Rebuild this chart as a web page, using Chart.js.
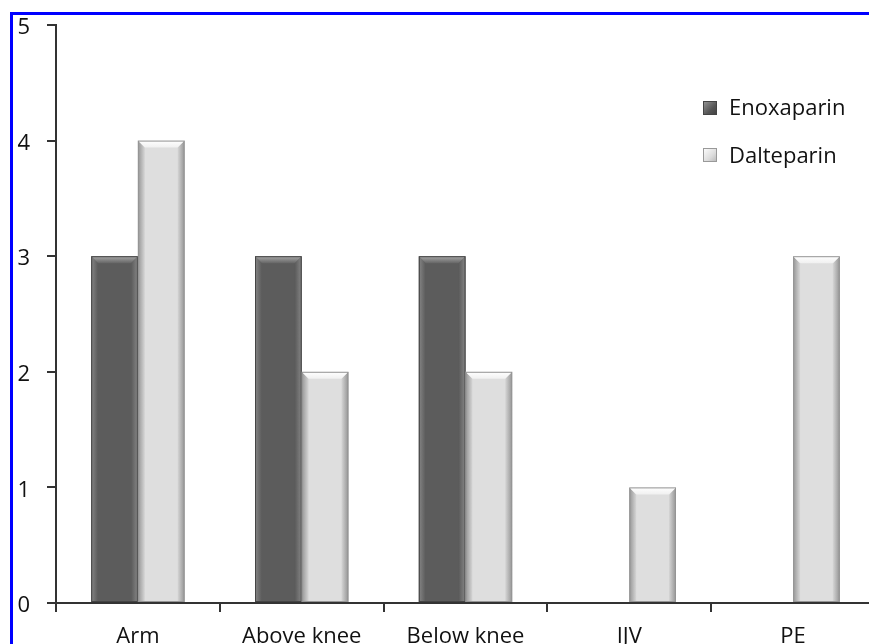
<!DOCTYPE html>
<html>
<head>
<meta charset="utf-8">
<script src="https://cdn.jsdelivr.net/npm/chart.js@4/dist/chart.umd.min.js"></script>
<style>
  html, body { margin: 0; padding: 0; background: #ffffff; overflow: hidden; width: 869px; height: 644px; }
  #wrap { position: absolute; left: 0; top: 0; width: 890px; height: 660px; }
  #frame { position: absolute; left: 10px; top: 12px; width: 900px; height: 700px; border: 3px solid #0000ff; pointer-events: none; }
  .leg { position: absolute; left: 703px; font-family: "Open Sans", sans-serif; font-size: 22px; line-height: 24px; color: #111; }
  .leg .sw { position: absolute; left: 0; width: 14px; height: 14px; }
  .leg .tx { position: absolute; left: 26px; white-space: nowrap; }
</style>
</head>
<body>
<div id="wrap"><canvas id="c"></canvas></div>
<div id="frame"></div>
<div class="leg" style="top:0">
  <div class="sw" style="top:101px;background:linear-gradient(135deg,#9a9a9a,#555 60%,#3f3f3f);box-shadow:inset 0 0 0 1px #444;"></div>
  <div class="tx" style="top:94px">Enoxaparin</div>
  <div class="sw" style="top:148px;background:linear-gradient(135deg,#ffffff,#dcdcdc 60%,#b5b5b5);box-shadow:inset 0 0 0 1px #999;"></div>
  <div class="tx" style="top:142px">Dalteparin</div>
</div>
<script>
const categories = ["Arm", "Above knee", "Below knee", "IJV", "PE"];
const enoxaparin = [3, 3, 3, 0, 0];
const dalteparin = [4, 2, 2, 1, 3];
const yTicks = [0, 1, 2, 3, 4, 5];

const styles = [
  { body: "#5c5c5c", sideA: "#868686", sideB: "#5a5a5a", topA: "#a8a8a8", topB: "#666666", line: "#444444" },
  { body: "#dedede", sideA: "#949494", sideB: "#d6d6d6", topA: "#ffffff", topB: "#f0f0f0", line: "#959595" }
];

const bevelPlugin = {
  id: "bevel",
  afterDatasetsDraw(chart) {
    const ctx = chart.ctx;
    chart.data.datasets.forEach((ds, di) => {
      const meta = chart.getDatasetMeta(di);
      const st = styles[di];
      meta.data.forEach(bar => {
        const p = bar.getProps(["x", "y", "base", "width"], true);
        const x0 = p.x - p.width / 2, x1 = p.x + p.width / 2;
        const top = Math.min(p.y, p.base), bot = Math.max(p.y, p.base);
        if (bot - top < 1) return;
        const b = 7;
        ctx.save();
        let g = ctx.createLinearGradient(x0, 0, x0 + b, 0);
        g.addColorStop(0, st.sideA); g.addColorStop(1, st.sideB);
        ctx.fillStyle = g;
        ctx.beginPath();
        ctx.moveTo(x0, top); ctx.lineTo(x0 + b, top + b); ctx.lineTo(x0 + b, bot); ctx.lineTo(x0, bot); ctx.closePath();
        ctx.fill();
        g = ctx.createLinearGradient(x1, 0, x1 - b, 0);
        g.addColorStop(0, st.sideA); g.addColorStop(1, st.sideB);
        ctx.fillStyle = g;
        ctx.beginPath();
        ctx.moveTo(x1, top); ctx.lineTo(x1 - b, top + b); ctx.lineTo(x1 - b, bot); ctx.lineTo(x1, bot); ctx.closePath();
        ctx.fill();
        g = ctx.createLinearGradient(0, top, 0, top + b);
        g.addColorStop(0, st.topA); g.addColorStop(1, st.topB);
        ctx.fillStyle = g;
        ctx.beginPath();
        ctx.moveTo(x0, top); ctx.lineTo(x1, top); ctx.lineTo(x1 - b, top + b); ctx.lineTo(x0 + b, top + b); ctx.closePath();
        ctx.fill();
        ctx.strokeStyle = st.line;
        ctx.lineWidth = 1;
        ctx.strokeRect(x0 + 0.5, top + 0.5, p.width - 1, bot - top - 1);
        ctx.restore();
      });
    });
  }
};

new Chart(document.getElementById("c"), {
  type: "bar",
  data: {
    labels: categories,
    datasets: [
      { label: "Enoxaparin", data: enoxaparin, backgroundColor: styles[0].body, borderWidth: 0 },
      { label: "Dalteparin", data: dalteparin, backgroundColor: styles[1].body, borderWidth: 0 }
    ]
  },
  options: {
    responsive: true,
    maintainAspectRatio: false,
    animation: false,
    devicePixelRatio: 1,
    layout: { padding: { top: 25, right: 15, bottom: 0, left: 0 } },
    plugins: { legend: { display: false }, tooltip: { enabled: false } },
    datasets: { bar: { barPercentage: 1.0, categoryPercentage: 0.57 } },
    scales: {
      x: {
        afterFit(s) { s.height = 57; s.paddingLeft = 0; s.paddingRight = 0; },
        grid: { drawOnChartArea: false, offset: true, tickLength: 9, color: "#333", lineWidth: 2 },
        border: { color: "#333", width: 2 },
        ticks: { padding: 12, color: "#111", font: { family: "Open Sans", size: 22 } }
      },
      y: {
        min: 0, max: 5,
        afterFit(s) { s.width = 56; s.paddingTop = 0; s.paddingBottom = 0; },
        afterBuildTicks(s) { s.ticks = yTicks.map(v => ({ value: v })); },
        grid: { drawOnChartArea: false, tickLength: 9, color: "#333", lineWidth: 2 },
        border: { color: "#333", width: 2 },
        ticks: { padding: 17, labelOffset: 3, color: "#111", font: { family: "Open Sans", size: 22 } }
      }
    }
  },
  plugins: [bevelPlugin]
});
</script>
</body>
</html>
